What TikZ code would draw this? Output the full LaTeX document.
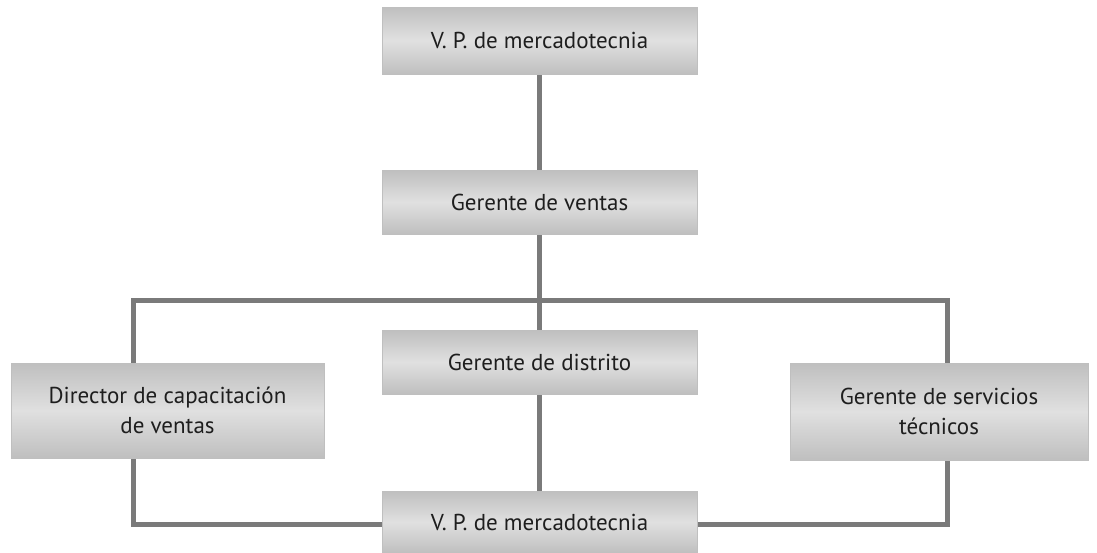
\documentclass[tikz,border=0pt]{standalone}
\usepackage{fontspec}
\setmainfont{PT Sans}
\usetikzlibrary{backgrounds}

\definecolor{linkgray}{HTML}{7A7A7A}
\definecolor{boxedge}{HTML}{BFBFBF}
\definecolor{boxmid}{HTML}{E0E0E0}
\definecolor{inkgray}{HTML}{1E1E1E}

\tikzset{
  post/.style={rectangle, inner sep=0pt, draw=boxedge, line width=0.6pt,
    top color=boxedge, bottom color=boxedge, middle color=boxmid,
    text=inkgray, font=\fontsize{23}{30}\selectfont, align=center},
  link/.style={draw=linkgray, line width=5pt, line join=miter}
}

\begin{document}
\begin{tikzpicture}[x=1pt, y=-1pt]
  \useasboundingbox (0,0) rectangle (1097,552);

  % positions
  \node[post, minimum width=315, minimum height=67] (vp)       at (539.5,40.5) {V. P. de mercadotecnia};
  \node[post, minimum width=315, minimum height=64] (ventas)   at (539.5,202)  {Gerente de ventas};
  \node[post, minimum width=315, minimum height=64] (distrito) at (539.5,362)  {Gerente de distrito};
  \node[post, minimum width=315, minimum height=62] (vpbottom) at (539.5,522)  {V. P. de mercadotecnia};
  \node[post, minimum width=313, minimum height=95] (capac)    at (167.5,410.5) {Director de capacitación\\de ventas};
  \node[post, minimum width=298, minimum height=97] (serv)     at (939,411.5)  {Gerente de servicios\\técnicos};

  % loop corners
  \coordinate (tl) at (133,300);
  \coordinate (tr) at (947,300);
  \coordinate (bl) at (133,524);
  \coordinate (br) at (947,524);

  \begin{pgfonlayer}{background}
    \draw[link] (vp.south) -- (vpbottom.north);
    \draw[link] (vpbottom.west |- bl) -- (bl) -- (tl) -- (tr) -- (br) -- (vpbottom.east |- br);
  \end{pgfonlayer}
\end{tikzpicture}
\end{document}
